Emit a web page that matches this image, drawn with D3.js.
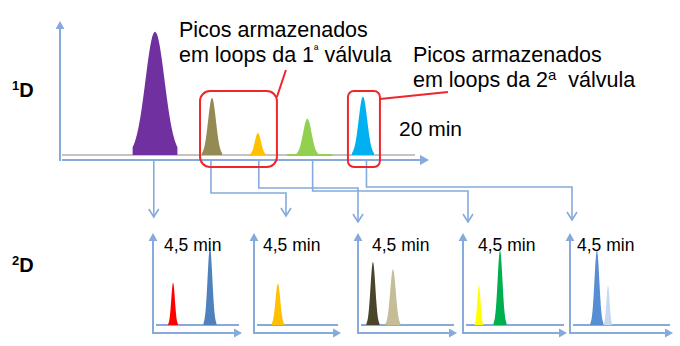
<!DOCTYPE html>
<html>
<head>
<meta charset="utf-8">
<script src="https://cdn.jsdelivr.net/npm/d3@7"></script>
<style>
  html, body { margin: 0; padding: 0; background: #fff; }
  svg { display: block; font-family: "Liberation Sans", Arial, sans-serif; }
</style>
</head>
<body>
<svg id="chart" width="680" height="346"></svg>
<script>
// First dimension (1D): 20 min run, five eluting fractions
const peaks1D = ["purple", "olive", "gold", "green", "cyan"];
const colors1D = ["#7030A0", "#948A54", "#FFC000", "#92D050", "#00B0F0"];
const times1D = [5.27, 8.5, 11.1, 13.9, 17.05];      // min
const heights1D = [95, 44, 17, 28, 45];              // relative response
const sigmas1D = [0.54, 0.22, 0.175, 0.24, 0.24];    // min
const cutTimes1D = [5.2, 8.44, 11.15, 14.2, 17.25];  // transfer points
const run1D = 20;                                     // min
const run2D = 4.5;                                    // min

// Storage loops per valve (indices into peaks1D)
const valve1Peaks = [1, 2];
const valve2Peaks = [4];

// Second dimension (2D): one 4.5 min run per transferred fraction
const panelNames = ["purple", "olive", "gold", "green", "cyan"];
const peaks2DTimes = [[1.05, 2.98], [1.28], [0.70, 1.64], [0.71, 1.65], [1.21, 1.71]];
const peaks2DHeights = [[47, 86], [46], [70, 62], [44, 83], [83, 44]];
const peaks2DSigmas = [[0.095, 0.125], [0.128], [0.113, 0.13], [0.072, 0.107], [0.108, 0.072]];
const peaks2DColors = [["#FF0000", "#4F81BD"], ["#FFC000"], ["#4A452A", "#C4BD97"],
                       ["#FFFF00", "#00B050"], ["#558ED5", "#C6D9F1"]];

const labelValve1 = ["Picos armazenados", "em loops da 1", "ª", " válvula"];
const labelValve2 = ["Picos armazenados", "em loops da 2", "a", "\u00A0\u00A0válvula"];
const runLabel1D = "20 min";
const runLabel2D = "4,5 min";

const svg = d3.select("#chart");
const axisBlue = "#85AADB";
const boxRed = "#F0262B";

// Gaussian peak outline sampled across ±2.5 sigma
function gaussPts(t0, h, s, k = 2.5) {
  const pts = [];
  const n = 40;
  for (let i = 0; i <= n; i++) {
    const t = t0 - k * s + (2 * k * s * i) / n;
    pts.push([t, h * Math.exp(-0.5 * ((t - t0) / s) ** 2)]);
  }
  return pts;
}

// Filled arrow head pointing in the given direction
function arrowHead(g, x, y, dir, size) {
  const s = size, w = size * 0.55;
  let p;
  if (dir === "up") p = [[x, y], [x - w, y + s], [x + w, y + s]];
  else p = [[x, y], [x - s, y - w], [x - s, y + w]];
  g.append("path").attr("d", d3.line()(p) + "Z").attr("fill", axisBlue);
}

// ---------- 1D chromatogram ----------
const x1 = d3.scaleLinear().domain([0, run1D]).range([62, 415]);
const y1 = d3.scaleLinear().domain([0, 100]).range([155, 25]);
const chart1D = svg.append("g");

// y axis
chart1D.append("line").attr("x1", 60).attr("x2", 60).attr("y1", 161).attr("y2", 28)
  .attr("stroke", axisBlue).attr("stroke-width", 2);
arrowHead(chart1D, 60, 21, "up", 8);
// grey baseline
chart1D.append("line").attr("x1", x1(0)).attr("x2", x1(run1D)).attr("y1", y1(0)).attr("y2", y1(0))
  .attr("stroke", "#C4C4C4").attr("stroke-width", 2.2);
// x axis
chart1D.append("line").attr("x1", 62).attr("x2", 422).attr("y1", 160).attr("y2", 160)
  .attr("stroke", axisBlue).attr("stroke-width", 2);
arrowHead(chart1D, 429, 160, "right", 9);

// faint green baseline under the green peak
chart1D.append("line")
  .attr("x1", x1(times1D[3] - 1.15)).attr("x2", x1(times1D[3] + 1.4))
  .attr("y1", y1(0)).attr("y2", y1(0))
  .attr("stroke", colors1D[3]).attr("stroke-width", 2);

const area1 = d3.area().x(d => x1(d[0])).y0(y1(0)).y1(d => y1(d[1])).curve(d3.curveBasis);
chart1D.selectAll("path.peak1")
  .data(peaks1D)
  .join("path")
  .attr("class", "peak1")
  .attr("d", (d, i) => area1(gaussPts(times1D[i], heights1D[i], sigmas1D[i], i === 0 ? 2.35 : 2.6)))
  .attr("fill", (d, i) => colors1D[i]);

// 1D axis labels
svg.append("text").attr("x", 399).attr("y", 136).attr("font-size", 21).text(runLabel1D);
const lab1 = svg.append("text").attr("x", 12).attr("y", 97).attr("font-size", 20).attr("font-weight", "bold");
lab1.append("tspan").attr("font-size", 13).attr("dy", -7).text("1");
lab1.append("tspan").attr("dy", 7).text("D");
const lab2 = svg.append("text").attr("x", 12).attr("y", 272).attr("font-size", 20).attr("font-weight", "bold");
lab2.append("tspan").attr("font-size", 13).attr("dy", -7).text("2");
lab2.append("tspan").attr("dy", 7).text("D");

// ---------- 2D panels ----------
const panelLeft = [153, 254, 358, 463, 570];
const panelRight = [242, 341, 457, 567, 673];
const textOffset = [11, 9, 14, 15, 7];
const y2 = d3.scaleLinear().domain([0, 100]).range([325, 235]);

panelNames.forEach((name, i) => {
  const L = panelLeft[i], R = panelRight[i];
  const x2 = d3.scaleLinear().domain([0, run2D]).range([L, R - 3]);
  const g = svg.append("g").attr("class", "panel-" + name);
  // baseline
  g.append("line").attr("x1", L + 3).attr("x2", R - 3).attr("y1", y2(0)).attr("y2", y2(0))
    .attr("stroke", axisBlue).attr("stroke-width", 1.8);
  // axes
  g.append("line").attr("x1", L).attr("x2", L).attr("y1", 334).attr("y2", 240)
    .attr("stroke", axisBlue).attr("stroke-width", 2);
  arrowHead(g, L, 233, "up", 8);
  g.append("line").attr("x1", L).attr("x2", R - 6).attr("y1", 333).attr("y2", 333)
    .attr("stroke", axisBlue).attr("stroke-width", 2);
  arrowHead(g, R, 333, "right", 8);
  // peaks
  const area2 = d3.area().x(d => x2(d[0])).y0(y2(0)).y1(d => y2(d[1]));
  g.selectAll("path.peak2")
    .data(peaks2DTimes[i])
    .join("path")
    .attr("class", "peak2")
    .attr("d", (t, j) => area2(gaussPts(t, peaks2DHeights[i][j], peaks2DSigmas[i][j], 2.7)))
    .attr("fill", (t, j) => peaks2DColors[i][j]);
  // run label
  g.append("text").attr("x", L + textOffset[i]).attr("y", 251).attr("font-size", 17.5)
    .text(runLabel2D);
});

// ---------- transfer lines from 1D cuts to 2D runs ----------
const dropX = panelLeft.map((L, i) => L + [1, 32, 0, 5, 2][i]);
const routeY = [null, 193, 188, 191, 187];
const dropTip = [217, 216, 222, 222, 220];
const conn = svg.append("g").attr("fill", "none").attr("stroke", axisBlue).attr("stroke-width", 1.6);
cutTimes1D.forEach((t, i) => {
  const cx = x1(t);
  let pts;
  if (routeY[i] === null) pts = [[cx, 160], [cx, dropTip[i]]];
  else pts = [[cx, 160], [cx, routeY[i]], [dropX[i], routeY[i]], [dropX[i], dropTip[i]]];
  conn.append("path").attr("d", d3.line()(pts));
  const tx = pts[pts.length - 1][0], ty = dropTip[i];
  conn.append("path").attr("d", d3.line()([[tx - 5, ty - 8], [tx, ty], [tx + 5, ty - 8]]));
});

// ---------- storage-loop callouts ----------
function loopBox(idxs, padL, padR) {
  const xs = idxs.map(k => x1(times1D[k]));
  return { x0: d3.min(xs) - padL, x1: d3.max(xs) + padR, y0: 91, y1: 167 };
}
const b1 = loopBox(valve1Peaks, 12, 19);
const b2 = loopBox(valve2Peaks, 15, 17);
const red = svg.append("g").attr("fill", "none").attr("stroke", boxRed).attr("stroke-width", 2);
[b1, b2].forEach((b, k) => {
  red.append("rect").attr("x", b.x0).attr("y", b.y0)
    .attr("width", b.x1 - b.x0).attr("height", b.y1 - b.y0).attr("rx", k === 0 ? 10 : 6);
});
red.append("line").attr("x1", b1.x1).attr("y1", 97).attr("x2", b1.x1 + 9).attr("y2", 70);
red.append("line").attr("x1", b2.x1).attr("y1", 99).attr("x2", b2.x1 + 68).attr("y2", 92);

function callout(x, yTop, parts, supSize, supDy) {
  svg.append("text").attr("x", x).attr("y", yTop).attr("font-size", 21.5).text(parts[0]);
  const t = svg.append("text").attr("x", x).attr("y", yTop + 25).attr("font-size", 21.5);
  t.append("tspan").text(parts[1]);
  t.append("tspan").attr("font-size", supSize).attr("dy", -supDy).text(parts[2]);
  t.append("tspan").attr("dy", supDy).text(parts[3]);
}
callout(179, 37, labelValve1, 12, 8);
callout(413, 62, labelValve2, 15, 7);
</script>
</body>
</html>
